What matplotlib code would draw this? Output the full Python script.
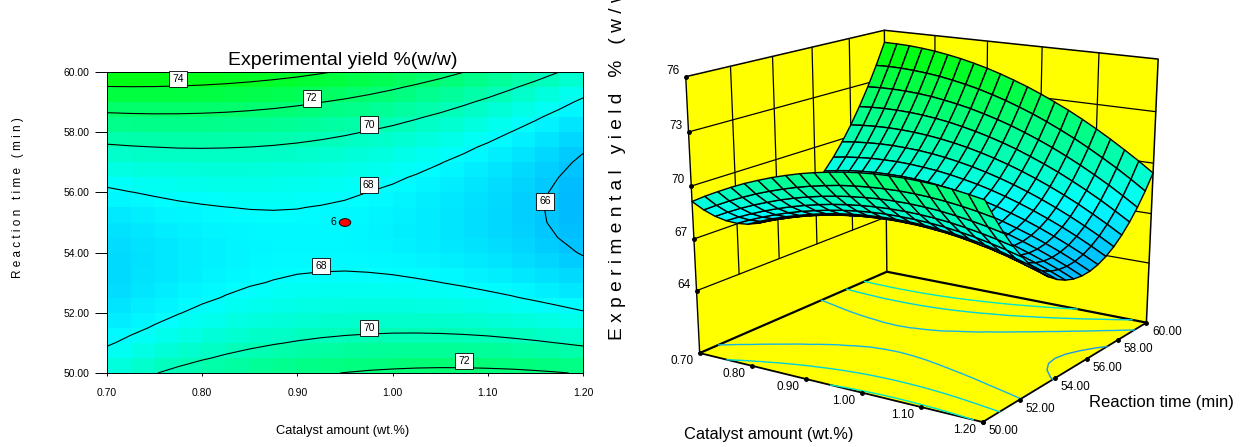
import numpy as np
import matplotlib
matplotlib.use('Agg')
import matplotlib.pyplot as plt
from matplotlib.collections import PolyCollection
from matplotlib.colors import LinearSegmentedColormap, Normalize
from matplotlib.patches import Ellipse, Polygon

plt.rcParams['font.family'] = ['Liberation Sans', 'DejaVu Sans']

catalyst = [0.700, 0.725, 0.750, 0.775, 0.800, 0.825, 0.850, 0.875, 0.900, 0.925, 0.950,
            0.975, 1.000, 1.025, 1.050, 1.075, 1.100, 1.125, 1.150, 1.175, 1.200]
rtime = [50.0, 50.5, 51.0, 51.5, 52.0, 52.5, 53.0, 53.5, 54.0, 54.5, 55.0,
         55.5, 56.0, 56.5, 57.0, 57.5, 58.0, 58.5, 59.0, 59.5, 60.0]
# yield estimated from the contour lines, rows follow rtime, columns follow catalyst
yield_grid = np.array([
    [69.13,69.56,69.95,70.32,70.66,70.96,71.24,71.48,71.70,71.88,72.03,72.16,72.25,72.32,72.35,72.35,72.32,72.27,72.18,72.06,71.91],
    [68.45,68.85,69.23,69.57,69.89,70.17,70.42,70.65,70.84,71.00,71.14,71.24,71.31,71.35,71.37,71.35,71.30,71.22,71.11,70.97,70.80],
    [67.87,68.25,68.61,68.93,69.22,69.49,69.72,69.92,70.09,70.23,70.34,70.42,70.48,70.50,70.49,70.45,70.38,70.27,70.14,69.98,69.79],
    [67.40,67.76,68.09,68.39,68.66,68.90,69.11,69.29,69.44,69.56,69.65,69.71,69.74,69.74,69.71,69.65,69.56,69.43,69.28,69.10,68.89],
    [67.03,67.37,67.68,67.96,68.21,68.43,68.61,68.77,68.90,69.00,69.07,69.11,69.11,69.09,69.04,68.96,68.84,68.70,68.52,68.32,68.09],
    [66.76,67.08,67.37,67.63,67.85,68.05,68.22,68.36,68.46,68.54,68.59,68.60,68.59,68.55,68.47,68.37,68.23,68.07,67.87,67.64,67.39],
    [66.60,66.90,67.16,67.40,67.61,67.78,67.93,68.04,68.13,68.18,68.21,68.20,68.17,68.10,68.01,67.88,67.72,67.54,67.32,67.07,66.80],
    [66.54,66.82,67.06,67.28,67.46,67.62,67.74,67.83,67.90,67.93,67.94,67.91,67.85,67.76,67.65,67.50,67.32,67.11,66.87,66.61,66.31],
    [66.59,66.84,67.06,67.26,67.42,67.55,67.66,67.73,67.77,67.78,67.77,67.72,67.64,67.53,67.39,67.22,67.02,66.79,66.53,66.24,65.92],
    [66.74,66.97,67.17,67.34,67.48,67.60,67.68,67.73,67.75,67.74,67.70,67.63,67.53,67.40,67.24,67.05,66.83,66.58,66.30,65.98,65.64],
    [66.99,67.20,67.38,67.53,67.65,67.74,67.80,67.83,67.83,67.80,67.74,67.65,67.53,67.37,67.19,66.98,66.74,66.46,66.16,65.83,65.46],
    [67.35,67.54,67.70,67.83,67.92,67.99,68.03,68.04,68.02,67.96,67.88,67.77,67.63,67.45,67.25,67.02,66.75,66.46,66.13,65.78,65.39],
    [67.81,67.98,68.11,68.22,68.30,68.35,68.36,68.35,68.31,68.23,68.13,67.99,67.83,67.63,67.41,67.15,66.87,66.55,66.21,65.83,65.42],
    [68.37,68.52,68.64,68.72,68.78,68.80,68.80,68.77,68.70,68.60,68.48,68.32,68.14,67.92,67.67,67.40,67.09,66.75,66.38,65.99,65.56],
    [69.04,69.17,69.26,69.33,69.36,69.37,69.34,69.28,69.20,69.08,68.93,68.76,68.55,68.31,68.04,67.74,67.41,67.06,66.67,66.25,65.80],
    [69.82,69.92,69.99,70.04,70.05,70.03,69.99,69.91,69.80,69.66,69.49,69.29,69.06,68.80,68.51,68.19,67.84,67.46,67.05,66.61,66.14],
    [70.70,70.78,70.83,70.85,70.84,70.80,70.73,70.63,70.50,70.34,70.15,69.93,69.68,69.40,69.09,68.75,68.38,67.98,67.54,67.08,66.59],
    [71.68,71.74,71.77,71.77,71.74,71.68,71.59,71.47,71.31,71.13,70.92,70.68,70.41,70.10,69.77,69.41,69.01,68.59,68.14,67.65,67.14],
    [72.76,72.80,72.81,72.79,72.74,72.66,72.54,72.40,72.23,72.02,71.79,71.53,71.23,70.91,70.56,70.17,69.76,69.31,68.84,68.33,67.79],
    [73.95,73.97,73.96,73.91,73.84,73.74,73.60,73.44,73.25,73.02,72.77,72.48,72.17,71.82,71.44,71.04,70.60,70.13,69.64,69.11,68.55],
    [75.25,75.24,75.21,75.14,75.05,74.92,74.77,74.58,74.37,74.12,73.84,73.54,73.20,72.83,72.44,72.01,71.55,71.06,70.54,70.00,69.42],
])

cat_ticks = [0.70, 0.80, 0.90, 1.00, 1.10, 1.20]
time_ticks = [50, 52, 54, 56, 58, 60]
z_ticks = [64, 67, 70, 73, 76]
levels = [66, 68, 70, 72, 74]
floor_levels = [66, 68, 70, 72]
floor_colors = ['#1e96e6', '#14b4e6', '#00d2dc', '#00e6c8']
contour_labels = [(0.775, 59.77, '74'), (0.915, 59.13, '72'), (0.975, 58.25, '70'),
                  (0.975, 56.25, '68'), (0.925, 53.55, '68'), (0.975, 51.5, '70'),
                  (1.075, 50.4, '72'), (1.16, 55.7, '66')]
FLOOR_Z = 60.3
TOP_Z = 76

cmap = LinearSegmentedColormap.from_list(
    'de', [(0, '#0000ff'), ((68 - 59) / (75.2 - 59), '#00ffff'), (1, '#00ff00')])
norm = Normalize(59, 75.2)

catalyst = np.array(catalyst)
rtime = np.array(rtime)

fig = plt.figure(figsize=(12.44, 4.47), dpi=100, facecolor='white')
W, H = 1244, 447

# contour plot on the left
ax = fig.add_axes([107 / W, 1 - 373 / H, 476 / W, 301 / H])
cells = (yield_grid[:-1, :-1] + yield_grid[1:, :-1] + yield_grid[:-1, 1:] + yield_grid[1:, 1:]) / 4
ax.pcolormesh(catalyst, rtime, cells, cmap=cmap, norm=norm, shading='flat')
cs = ax.contour(catalyst, rtime, yield_grid, levels=levels, colors='black', linewidths=0.8)
for cx, ty, s in contour_labels:
    ax.text(cx, ty, s, fontsize=7.5, ha='center', va='center',
            bbox=dict(boxstyle='square,pad=0.32', fc='white', ec='black', lw=0.6))
ax.add_patch(Ellipse((0.95, 55), 0.012, 0.256, fc='red', ec='black', lw=0.7, zorder=5))
ax.text(0.9375, 55.03, '6', fontsize=7.5, ha='center', va='center')
ax.set_xlim(0.7, 1.2)
ax.set_ylim(50, 60)
ax.set_xticks(cat_ticks, ['%.2f' % c for c in cat_ticks])
ax.set_yticks(time_ticks, ['%.2f' % t for t in time_ticks])
ax.tick_params(axis='x', labelsize=7.5, length=2.5, width=0.7, pad=8)
ax.tick_params(axis='y', labelsize=7.5, length=9, width=0.7, pad=3.5)
for sp in ax.spines.values():
    sp.set_linewidth(0.7)
fig.text(343 / W, 1 - 60.5 / H, 'Experimental yield %(w/w)', fontsize=14, ha='center', va='center')
fig.text(343 / W, 1 - 431 / H, 'Catalyst amount (wt.%)', fontsize=9.3, ha='center', va='center')
fig.text(18.5 / W, 1 - 198 / H, 'R e a c t i o n   t i m e   ( m i n )', fontsize=8.5,
         rotation=90, ha='center', va='center')

# 3D box on the right, pixel axes, camera fitted from box corners and axis ticks
px = fig.add_axes([0, 0, 1, 1])
px.set_xlim(0, W)
px.set_ylim(H, 0)
px.axis('off')
px.patch.set_alpha(0)

calib = [(0.7, 50, FLOOR_Z, 700.7, 354.7), (1.2, 50, FLOOR_Z, 982, 423),
         (1.2, 60, FLOOR_Z, 1146.5, 322), (0.7, 60, FLOOR_Z, 886.7, 272.7),
         (0.7, 50, 76, 686, 78), (0.7, 60, 76, 884, 30), (1.2, 60, 76, 1159, 60),
         (0.7, 50, 70, 690, 184), (0.7, 50, 64, 697, 289), (1.2, 60, 64, 1148.7, 262)]


def scaled(c, t, z):
    return (np.asarray(c) - 0.95) / 0.25, (np.asarray(t) - 55) / 5, (np.asarray(z) - 68) / 8


rows = []
for c, t, z, x, y in calib:
    a, b, d = scaled(c, t, z)
    rows.append([a, b, d, 1, 0, 0, 0, 0, -x * a, -x * b, -x * d, -x])
    rows.append([0, 0, 0, 0, a, b, d, 1, -y * a, -y * b, -y * d, -y])
P = np.linalg.svd(np.array(rows, dtype=float))[2][-1].reshape(3, 4)


def project(c, t, z):
    a, b, d = scaled(c, t, z)
    w = P[2, 0] * a + P[2, 1] * b + P[2, 2] * d + P[2, 3]
    x = (P[0, 0] * a + P[0, 1] * b + P[0, 2] * d + P[0, 3]) / w
    y = (P[1, 0] * a + P[1, 1] * b + P[1, 2] * d + P[1, 3]) / w
    return x, y


def seg3d(c, t, z, **kw):
    x, y = project(np.array(c, dtype=float), np.array(t, dtype=float), np.array(z, dtype=float))
    px.plot(x, y, color='black', solid_capstyle='round', **kw)


def face(c, t, z):
    x, y = project(np.array(c, dtype=float), np.array(t, dtype=float), np.array(z, dtype=float))
    px.add_patch(Polygon(np.column_stack([x, y]), closed=True, fc='#ffff00', ec='none'))


face([0.7, 1.2, 1.2, 0.7], [50, 50, 60, 60], [FLOOR_Z] * 4)
face([0.7, 0.7, 0.7, 0.7], [50, 60, 60, 50], [FLOOR_Z, FLOOR_Z, TOP_Z, TOP_Z])
face([0.7, 1.2, 1.2, 0.7], [60, 60, 60, 60], [FLOOR_Z, FLOOR_Z, TOP_Z, TOP_Z])

# wall grid
for t in time_ticks[1:-1]:
    seg3d([0.7, 0.7], [t, t], [z_ticks[0], TOP_Z], lw=0.9)
for c in cat_ticks[1:-1]:
    seg3d([c, c], [60, 60], [z_ticks[0], TOP_Z], lw=0.9)
for z in z_ticks[:-1]:
    seg3d([0.7, 0.7], [50, 60], [z, z], lw=0.9)
    seg3d([0.7, 1.2], [60, 60], [z, z], lw=0.9)

# outline
seg3d([0.7, 0.7, 1.2, 1.2], [50, 60, 60, 60], [TOP_Z, TOP_Z, TOP_Z, FLOOR_Z], lw=1.1)
seg3d([0.7, 0.7], [50, 50], [TOP_Z, FLOOR_Z], lw=1.0)
seg3d([0.7, 0.7], [60, 60], [TOP_Z, FLOOR_Z], lw=1.0)
seg3d([0.7, 0.7, 1.2], [50, 60, 60], [FLOOR_Z, FLOOR_Z, FLOOR_Z], lw=1.6)
seg3d([0.7, 1.2, 1.2], [50, 50, 60], [FLOOR_Z, FLOOR_Z, FLOOR_Z], lw=1.3)

# floor contours
for lev, col in zip(floor_levels, floor_colors):
    for seg in cs.allsegs[levels.index(lev)]:
        x, y = project(seg[:, 0], seg[:, 1], np.full(len(seg), FLOOR_Z))
        px.plot(x, y, color=col, lw=1.0)

# mesh, far cells first
polys, cols = [], []
for j in range(len(rtime) - 2, -1, -1):
    for i in range(len(catalyst) - 1):
        cc = [catalyst[i], catalyst[i + 1], catalyst[i + 1], catalyst[i]]
        tt = [rtime[j], rtime[j], rtime[j + 1], rtime[j + 1]]
        zz = [yield_grid[j, i], yield_grid[j, i + 1], yield_grid[j + 1, i + 1], yield_grid[j + 1, i]]
        x, y = project(np.array(cc), np.array(tt), np.array(zz))
        polys.append(np.column_stack([x, y]))
        cols.append(cmap(norm(np.mean(zz))))
px.add_collection(PolyCollection(polys, facecolors=cols, edgecolors='black', linewidths=1.0, zorder=3))

# tick dots and labels
for c in cat_ticks:
    x, y = project(c, 50, FLOOR_Z)
    px.plot(x, y, 'o', color='black', ms=2.5)
    px.text(x - 18, y + 8, '%.2f' % c, fontsize=8.5, ha='center', va='center')
for t in time_ticks:
    x, y = project(1.2, t, FLOOR_Z)
    px.plot(x, y, 'o', color='black', ms=2.5)
    px.text(x + 20.5, y + 9, '%.2f' % t, fontsize=8.5, ha='center', va='center')
for z in z_ticks:
    x, y = project(0.7, 50, z)
    px.plot(x, y, 'o', color='black', ms=2.5)
    px.text(x - 13, y - 6, '%d' % z, fontsize=8.5, ha='center', va='center')

px.text(769, 434, 'Catalyst amount (wt.%)', fontsize=11.8, ha='center', va='center')
px.text(1161, 402, 'Reaction time (min)', fontsize=12, ha='center', va='center')
px.text(617, 340, 'E x p e r i m e n t a l   y i e l d   %   ( w / w )', fontsize=13.8,
        rotation=90, ha='center', va='bottom')

fig.savefig('out.png', dpi=100)
